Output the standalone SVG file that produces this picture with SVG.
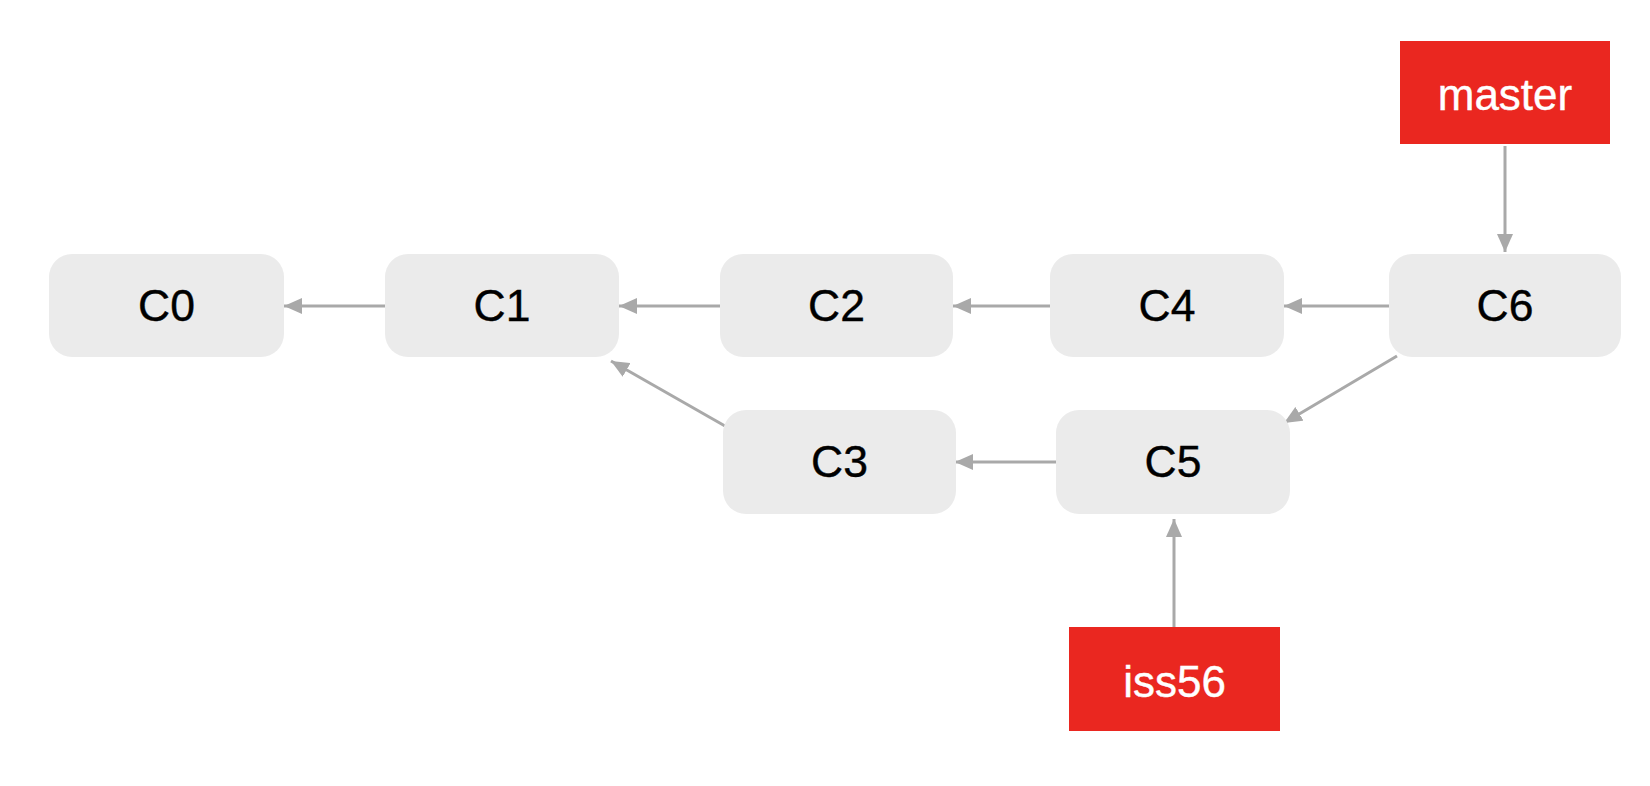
<svg xmlns="http://www.w3.org/2000/svg" width="1650" height="786" viewBox="0 0 1650 786">
<style>
.commit rect{fill:#EBEBEB}
.commit text{font-family:"Liberation Sans",Arial,sans-serif;font-size:44.5px;fill:#000;stroke:#000;stroke-width:0.4;text-anchor:middle}
.branch rect{fill:#EA2720}
.branch text{font-family:"Liberation Sans",Arial,sans-serif;font-size:44px;fill:#fff;stroke:#fff;stroke-width:0.4;text-anchor:middle}
.edge{stroke:#A9A9A9;stroke-width:3;fill:none;marker-end:url(#ah)}
</style>
<defs>
<marker id="ah" markerUnits="userSpaceOnUse" markerWidth="18" markerHeight="16" refX="18" refY="8" orient="auto">
<path d="M0,0 L18,8 L0,16 Z" fill="#A9A9A9"/>
</marker>
</defs>
<rect width="1650" height="786" fill="#fff"/>
<g id="connectors">
<line class="edge" x1="385" y1="306" x2="284" y2="306"/>
<line class="edge" x1="720" y1="306" x2="619" y2="306"/>
<line class="edge" x1="1050" y1="306" x2="953" y2="306"/>
<line class="edge" x1="1389" y1="306" x2="1284" y2="306"/>
<line class="edge" x1="1056" y1="462" x2="955" y2="462"/>
<line class="edge" x1="725" y1="426" x2="611" y2="361"/>
<line class="edge" x1="1397" y1="356" x2="1284" y2="423"/>
<line class="edge" x1="1505" y1="146" x2="1505" y2="252"/>
<line class="edge" x1="1174" y1="628" x2="1174" y2="519"/>
</g>
<g id="C0" class="commit"><rect x="49" y="254" width="235" height="103" rx="23"/><text x="166.5" y="321">C0</text></g>
<g id="C1" class="commit"><rect x="385" y="254" width="234" height="103" rx="23"/><text x="502" y="321">C1</text></g>
<g id="C2" class="commit"><rect x="720" y="254" width="233" height="103" rx="23"/><text x="836.5" y="321">C2</text></g>
<g id="C4" class="commit"><rect x="1050" y="254" width="234" height="103" rx="23"/><text x="1167" y="321">C4</text></g>
<g id="C6" class="commit"><rect x="1389" y="254" width="232" height="103" rx="23"/><text x="1505" y="321">C6</text></g>
<g id="C3" class="commit"><rect x="723" y="410" width="233" height="104" rx="23"/><text x="839.5" y="477">C3</text></g>
<g id="C5" class="commit"><rect x="1056" y="410" width="234" height="104" rx="23"/><text x="1173" y="477">C5</text></g>
<g id="master" class="branch"><rect x="1400" y="41" width="210" height="103"/><text x="1505" y="110">master</text></g>
<g id="iss56" class="branch"><rect x="1069" y="627" width="211" height="104"/><text x="1174.5" y="697">iss56</text></g>
</svg>
